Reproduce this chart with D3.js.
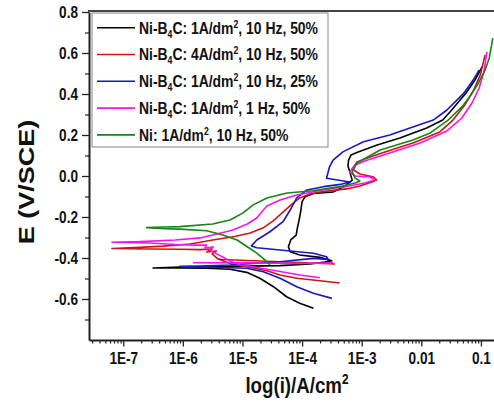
<!DOCTYPE html>
<html><head><meta charset="utf-8">
<script src="https://cdn.jsdelivr.net/npm/d3@7"></script>
<style>
body{margin:0;background:#fff}
text{font-family:Arial,"Liberation Sans",sans-serif;font-weight:bold}
</style>
</head><body><svg id="c" width="494" height="402"></svg>
<script>
// ---- data ----
const xTickValues = [1e-7, 1e-6, 1e-5, 1e-4, 1e-3, 0.01, 0.1];
const xTickLabels = ["1E-7", "1E-6", "1E-5", "1E-4", "1E-3", "0.01", "0.1"];
const yTickValues = [-0.6, -0.4, -0.2, 0.0, 0.2, 0.4, 0.6, 0.8];
const yTickLabels = ["-0.6", "-0.4", "-0.2", "0.0", "0.2", "0.4", "0.6", "0.8"];
const seriesLabels = [
  "Ni-B_4C: 1A/dm^2, 10 Hz, 50%",
  "Ni-B_4C: 4A/dm^2, 10 Hz, 50%",
  "Ni-B_4C: 1A/dm^2, 10 Hz, 25%",
  "Ni-B_4C: 1A/dm^2, 1 Hz, 50%",
  "Ni: 1A/dm^2, 10 Hz, 50%"
];
const seriesColors = ["#000000", "#d01414", "#1818c0", "#f414f0", "#168416"];
// points: [log10(i / A cm^-2), E / V vs SCE]
const blackData = [
[-3.81,-0.645],[-4.04,-0.621],[-4.26,-0.589],[-4.48,-0.540],[-4.71,-0.499],[-4.93,-0.470],[-5.21,-0.455],[-5.60,-0.450],[-6.05,-0.449],[-6.50,-0.449],
[-6.05,-0.444],[-5.21,-0.441],[-4.37,-0.437],[-3.87,-0.429],[-3.62,-0.420],[-3.50,-0.413],[-3.70,-0.397],[-4.04,-0.385],[-4.20,-0.369],[-4.23,-0.345],
[-4.19,-0.312],[-4.10,-0.288],[-4.08,-0.255],[-4.05,-0.215],[-4.02,-0.166],[-4.00,-0.125],[-3.95,-0.101],[-3.81,-0.085],[-3.48,-0.078],[-3.28,-0.049],
[-3.16,-0.020],[-3.20,0.020],[-3.23,0.049],[-3.22,0.078],[-3.18,0.102],[-3.06,0.117],[-2.74,0.151],[-2.36,0.185],[-1.91,0.234],[-1.64,0.273],
[-1.49,0.322],[-1.25,0.405],[-1.10,0.468],[-0.98,0.532]
];
const redData = [
[-3.37,-0.522],[-3.70,-0.511],[-4.09,-0.499],[-4.37,-0.483],[-4.59,-0.462],[-4.93,-0.442],[-5.21,-0.427],[-5.41,-0.405],[-5.51,-0.380],[-5.44,-0.366],
[-5.60,-0.371],[-5.51,-0.356],[-5.71,-0.359],[-6.05,-0.357],[-6.55,-0.356],[-7.19,-0.354],[-6.72,-0.348],[-6.33,-0.342],[-5.88,-0.332],[-5.50,-0.312],
[-5.13,-0.295],[-4.87,-0.278],[-4.66,-0.254],[-4.49,-0.220],[-4.32,-0.176],[-4.17,-0.137],[-4.04,-0.107],[-3.87,-0.088],[-3.65,-0.076],[-3.25,-0.063],
[-3.03,-0.049],[-2.83,-0.029],[-2.75,-0.020],[-2.80,-0.005],[-3.03,0.010],[-3.16,0.034],[-3.08,0.068],[-2.86,0.093],[-2.61,0.117],[-2.14,0.161],
[-1.69,0.215],[-1.47,0.273],[-1.27,0.346],[-1.12,0.420],[-1.01,0.493],[-0.93,0.590]
];
const redBranch = [[-3.45,-0.429],[-4.04,-0.422],[-4.71,-0.415],[-5.34,-0.407],[-5.41,-0.405]];
const blueData = [
[-3.50,-0.597],[-3.81,-0.572],[-4.09,-0.540],[-4.37,-0.499],[-4.65,-0.467],[-4.93,-0.450],[-5.49,-0.445],[-6.00,-0.445],[-6.05,-0.441],[-5.71,-0.439],
[-5.21,-0.434],[-4.37,-0.418],[-3.81,-0.402],[-3.56,-0.407],[-3.59,-0.394],[-3.81,-0.377],[-4.37,-0.361],[-4.76,-0.350],[-4.85,-0.341],[-4.76,-0.312],
[-4.54,-0.272],[-4.32,-0.223],[-4.20,-0.166],[-4.09,-0.107],[-3.92,-0.068],[-3.64,-0.052],[-3.36,-0.041],[-3.20,-0.029],[-3.59,-0.011],[-3.54,0.045],
[-3.48,0.078],[-3.31,0.119],[-2.97,0.167],[-2.53,0.200],[-2.13,0.240],[-1.80,0.273],[-1.57,0.322],[-1.29,0.403],[-1.13,0.468],[-1.03,0.517]
];
const magentaData = [
[-3.70,-0.496],[-4.04,-0.483],[-4.37,-0.466],[-4.71,-0.449],[-5.04,-0.434],[-5.21,-0.415],[-5.43,-0.380],[-5.55,-0.361],[-5.49,-0.346],[-5.63,-0.351],
[-5.60,-0.337],[-5.80,-0.337],[-6.13,-0.334],[-6.55,-0.327],[-7.19,-0.323],[-6.72,-0.320],[-6.13,-0.312],[-5.71,-0.302],[-5.50,-0.288],[-5.16,-0.263],
[-4.92,-0.234],[-4.76,-0.205],[-4.65,-0.166],[-4.59,-0.146],[-4.37,-0.117],[-4.09,-0.093],[-3.65,-0.068],[-3.25,-0.051],[-2.95,-0.034],[-2.78,-0.020],
[-2.86,-0.005],[-3.11,0.000],[-3.20,0.020],[-3.11,0.054],[-2.90,0.078],[-2.53,0.112],[-2.02,0.161],[-1.57,0.220],[-1.32,0.283],[-1.15,0.356],
[-1.03,0.429],[-0.95,0.507],[-0.90,0.605]
];
const magentaBranch = [[-5.83,-0.423],[-4.87,-0.424],[-4.04,-0.427],[-3.48,-0.424]];
const greenData = [
[-4.54,-0.434],[-4.62,-0.410],[-4.76,-0.376],[-4.92,-0.345],[-5.09,-0.312],[-5.33,-0.288],[-5.60,-0.267],[-6.05,-0.259],[-6.38,-0.256],[-6.61,-0.252],
[-6.30,-0.249],[-6.05,-0.247],[-5.50,-0.234],[-5.21,-0.215],[-4.99,-0.180],[-4.82,-0.141],[-4.59,-0.107],[-4.25,-0.083],[-3.82,-0.072],[-3.37,-0.052],
[-3.11,-0.034],[-3.03,-0.024],[-3.11,-0.010],[-3.16,0.020],[-3.08,0.063],[-2.90,0.093],[-2.69,0.127],[-2.14,0.176],[-1.85,0.210],[-1.55,0.273],
[-1.32,0.337],[-1.18,0.390],[-1.05,0.449],[-0.93,0.517],[-0.86,0.576],[-0.80,0.673]
];
const seriesData = [[blackData], [redData, redBranch], [blueData], [magentaData, magentaBranch], [greenData]];

// ---- chart ----
const svg = d3.select("#c");
const SX = 0.85; // horizontal compression of lettering in the original
const x = d3.scaleLog().domain([Math.pow(10, -7.575), Math.pow(10, -0.747)]).range([89, 496]);
const y = d3.scaleLinear().domain([-0.8, 0.8]).range([340, 12]);

// curves
const line = d3.line().x(d => x(Math.pow(10, d[0]))).y(d => y(d[1]));
seriesData.forEach((parts, si) => {
  parts.forEach(p => {
    svg.append("path").attr("d", line(p)).attr("fill", "none")
      .attr("stroke", seriesColors[si]).attr("stroke-width", 1.6)
      .attr("stroke-linejoin", "round");
  });
});

// x axis minor
const xMinor = [];
for (let n = -8; n <= -1; n++) for (let k = 2; k <= 9; k++) {
  const v = k * Math.pow(10, n);
  if (v > x.domain()[0] && v < x.domain()[1]) xMinor.push(v);
}
svg.append("g").attr("transform", "translate(0,340)")
  .call(d3.axisBottom(x).tickValues(xMinor).tickSize(3.5).tickFormat(""))
  .call(g => { g.select(".domain").remove(); g.selectAll("line").attr("stroke", "#222").attr("stroke-width", 1.2); });
const gx = svg.append("g").attr("transform", "translate(0,340)")
  .call(d3.axisBottom(x).tickValues(xTickValues).tickSize(6.5).tickSizeOuter(0).tickPadding(6)
    .tickFormat((d, i) => xTickLabels[i]));
gx.select(".domain").attr("stroke", "#222").attr("stroke-width", 2);
gx.selectAll("line").attr("stroke", "#222").attr("stroke-width", 1.3);
gx.selectAll("text").attr("font-size", 16).attr("fill", "#111").attr("transform", `scale(${SX},1)`);

// y axis
const yMinor = d3.range(-7, 8, 2).map(v => v / 10);
svg.append("g").attr("transform", "translate(89,0)")
  .call(d3.axisLeft(y).tickValues(yMinor).tickSize(4).tickFormat(""))
  .call(g => { g.select(".domain").remove(); g.selectAll("line").attr("stroke", "#222").attr("stroke-width", 1.2); });
const gy = svg.append("g").attr("transform", "translate(89,0)")
  .call(d3.axisLeft(y).tickValues(yTickValues).tickSize(7).tickSizeOuter(0).tickPadding(4)
    .tickFormat((d, i) => yTickLabels[i]));
gy.select(".domain").attr("stroke", "#222").attr("stroke-width", 2);
gy.selectAll("line").attr("stroke", "#222").attr("stroke-width", 1.3);
gy.selectAll("text").attr("font-size", 16).attr("fill", "#111")
  .attr("x", -11 / SX).attr("transform", `scale(${SX},1)`);

// top frame
svg.append("line").attr("x1", 88).attr("x2", 494).attr("y1", 11).attr("y2", 11)
  .attr("stroke", "#444").attr("stroke-width", 2);

// axis titles
svg.append("g").attr("transform", `translate(26,182) scale(${SX},1) rotate(-90)`)
  .append("text").attr("text-anchor", "middle").attr("dy", "0.36em")
  .attr("font-size", 27).attr("fill", "#111").text("E (V/SCE)");
const xt = svg.append("g").attr("transform", `translate(297,393) scale(${SX},1)`)
  .append("text").attr("text-anchor", "middle").attr("font-size", 22).attr("fill", "#111");
xt.append("tspan").text("log(i)/A/cm");
xt.append("tspan").attr("font-size", 14).attr("dy", -9).text("2");

// legend
svg.append("rect").attr("x", 92).attr("y", 13).attr("width", 236).attr("height", 134)
  .attr("fill", "#fff").attr("stroke", "#9a9a9a").attr("stroke-width", 1.2);
function richText(t, str) {
  const re = /([_^])(.)/g; let last = 0, m, shift = 0;
  while ((m = re.exec(str)) !== null) {
    if (m.index > last) t.append("tspan").attr("dy", -shift).text(str.slice(last, m.index)), shift = 0;
    const s = m[1] === "_" ? 4 : -6;
    t.append("tspan").attr("font-size", 10).attr("dy", s - shift).text(m[2]);
    shift = s; last = re.lastIndex;
  }
  if (last < str.length) t.append("tspan").attr("dy", -shift).text(str.slice(last));
}
seriesLabels.forEach((lab, i) => {
  const cy = 27.7 + i * 26.8;
  svg.append("line").attr("x1", 97).attr("x2", 135).attr("y1", cy).attr("y2", cy)
    .attr("stroke", seriesColors[i]).attr("stroke-width", 1.6);
  const t = svg.append("g").attr("transform", `translate(139,${cy + 5.8}) scale(0.87,1)`)
    .append("text").attr("font-size", 16).attr("fill", "#111");
  richText(t, lab);
});
</script>
</body></html>
